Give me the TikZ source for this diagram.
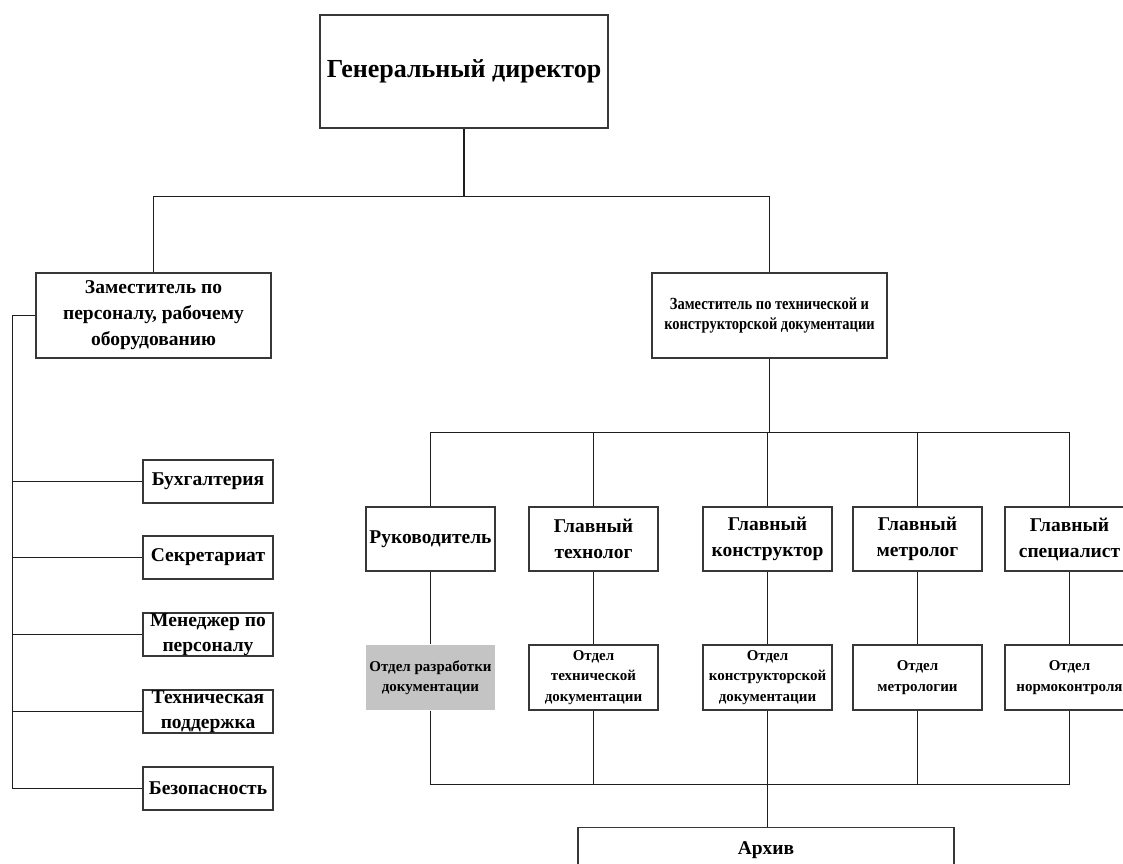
\documentclass[tikz,border=0pt]{standalone}
\usepackage{fontspec}
\setmainfont{Liberation Serif}
\newfontfamily\narrowserif[FakeStretch=0.85]{Liberation Serif}
\definecolor{boxline}{RGB}{55,55,55}
\definecolor{linecol}{RGB}{30,30,30}
\definecolor{shade}{RGB}{196,196,196}
\begin{document}
\begin{tikzpicture}[x=1pt,y=-1pt,
  box/.style={draw=boxline, line width=1.3pt, fill=white, align=center, inner sep=0pt},
  chief/.style={box, minimum width=288pt, minimum height=113pt, font=\fontsize{26}{30}\selectfont\bfseries},
  deputy/.style={box, minimum width=235pt, minimum height=85pt, font=\fontsize{19.5}{26}\selectfont\bfseries},
  deputysmall/.style={deputy, font=\narrowserif\fontsize{17}{19.5}\selectfont\bfseries},
  staff/.style={box, minimum width=130pt, minimum height=43pt, font=\fontsize{19.5}{25}\selectfont\bfseries},
  head/.style={box, minimum width=129pt, minimum height=64pt, font=\fontsize{19.5}{26}\selectfont\bfseries},
  dept/.style={box, minimum width=129pt, minimum height=65pt, font=\fontsize{15}{20.5}\selectfont\bfseries},
  link/.style={draw=linecol, line width=1.4pt},
]
\useasboundingbox (0,0) rectangle (1123,863);
\clip (0,0) rectangle (1123,863);
\fill[white] (0,0) rectangle (1123,863);

% top level
\node[chief] (gd) at (464,71.5) {Генеральный директор};

% deputies
\node[deputy] (dep1) at (153.5,315.5) {Заместитель по\\персоналу, рабочему\\оборудованию};
\node[deputysmall] (dep2) at (769.5,315.5) {Заместитель по технической и\\конструкторской документации};

\coordinate (j1) at (464,196.5);
\draw[link] (gd.south) -- (j1);
\draw[link] (dep1.north) |- (j1) -| (dep2.north);

% staff services of the first deputy
\node[staff] (s1) at (208,481.5) {Бухгалтерия};
\node[staff] (s2) at (208,557.5) {Секретариат};
\node[staff] (s3) at (208,634.5) {Менеджер по\\персоналу};
\node[staff] (s4) at (208,711.5) {Техническая\\поддержка};
\node[staff] (s5) at (208,788.5) {Безопасность};

\coordinate (spine) at (12.5,0);
\draw[link] (dep1.west) -- (dep1.west -| spine) -- (s5.west -| spine) -- (s5.west);
\foreach \s in {s1,s2,s3,s4}
  \draw[link] (\s.west -| spine) -- (\s.west);

% heads under the second deputy
\node[head] (h1) at (430.5,539) {Руководитель};
\node[head] (h2) at (593.5,539) {Главный\\технолог};
\node[head] (h3) at (767.5,539) {Главный\\конструктор};
\node[head] (h4) at (917.5,539) {Главный\\метролог};
\node[head] (h5) at (1069.5,539) {Главный\\специалист};

\coordinate (bus) at (0,432.5);
\draw[link] (dep2.south) -- (dep2.south |- bus);
\draw[link] (h1.north) -- (h1.north |- bus) -- (h5.north |- bus) -- (h5.north);
\foreach \h in {h2,h3,h4}
  \draw[link] (\h.north |- bus) -- (\h.north);

% departments
\node[dept, draw=none, fill=shade] (d1) at (430.5,677.5) {Отдел разработки\\документации};
\node[dept] (d2) at (593.5,677.5) {Отдел\\технической\\документации};
\node[dept] (d3) at (767.5,677.5) {Отдел\\конструкторской\\документации};
\node[dept] (d4) at (917.5,677.5) {Отдел\\метрологии};
\node[dept] (d5) at (1069.5,677.5) {Отдел\\нормоконтроля};

\foreach \i in {1,...,5}
  \draw[link] (h\i.south) -- (d\i.north);

\coordinate (bus2) at (0,784.5);
\draw[link] (d1.south) -- (d1.south |- bus2) -- (d5.south |- bus2) -- (d5.south);
\foreach \d in {d2,d4}
  \draw[link] (\d.south) -- (\d.south |- bus2);

% archive
\node[box, anchor=north, minimum width=376pt, text height=14pt, text depth=45pt,
      inner ysep=13pt, font=\fontsize{19.5}{22}\selectfont\bfseries] (arch) at (766,827) {Архив};
\draw[link] (d3.south) -- (d3.south |- arch.north);
\end{tikzpicture}
\end{document}
